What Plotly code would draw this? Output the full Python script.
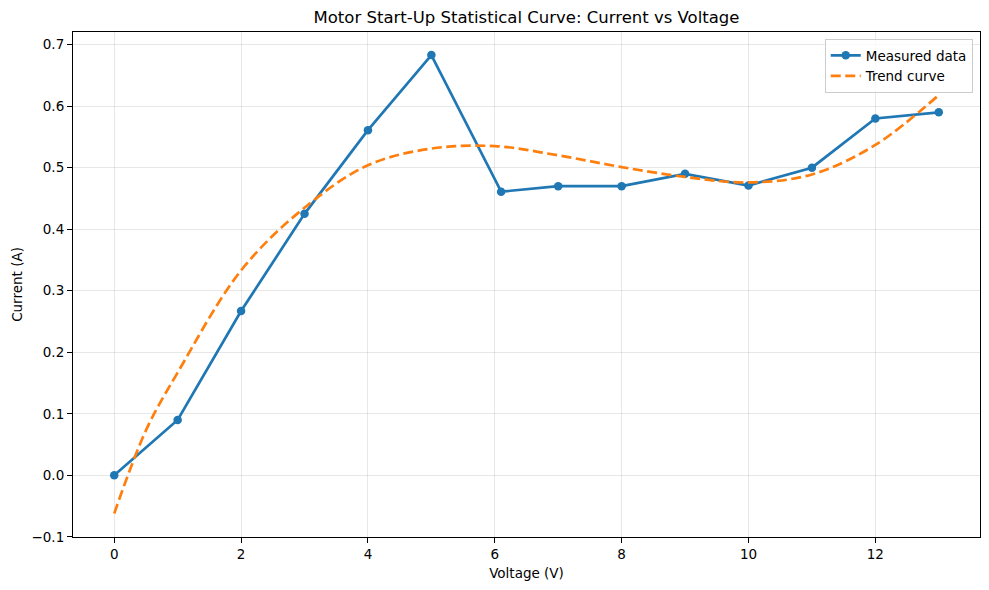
import plotly.graph_objects as go

# Measured data
voltage = [0, 1, 2, 3, 4, 5, 6.1, 7, 8, 9, 10, 11, 12, 13]
current = [0.0, 0.09, 0.267, 0.425, 0.561, 0.683, 0.461, 0.47, 0.47, 0.49, 0.471, 0.5, 0.58, 0.59]

# Trend curve
trend_x = [0, 0.5, 1, 2, 3, 4, 5, 6, 7, 8, 9, 10, 11, 12, 13]
trend_y = [-0.062, 0.073, 0.167, 0.333, 0.435, 0.504, 0.531, 0.535, 0.520, 0.501, 0.485, 0.476, 0.489, 0.537, 0.618]

x_ticks = [0, 2, 4, 6, 8, 10, 12]
y_ticks = [-0.1, 0.0, 0.1, 0.2, 0.3, 0.4, 0.5, 0.6, 0.7]

BLUE = "#1f77b4"
ORANGE = "#ff7f0e"
FONT = "DejaVu Sans"

fig = go.Figure()
fig.add_trace(go.Scatter(
    x=voltage, y=current, mode="lines+markers", name="Measured data",
    line=dict(color=BLUE, width=2.7),
    marker=dict(color=BLUE, size=8.5),
))
fig.add_trace(go.Scatter(
    x=trend_x, y=trend_y, mode="lines", name="Trend curve",
    line=dict(color=ORANGE, width=2.7, dash="10px,4.5px", shape="spline", smoothing=1.0),
))

axis_common = dict(
    showline=True, linecolor="black", linewidth=1.1, mirror=True,
    ticks="outside", ticklen=5, tickwidth=1.1, tickcolor="black",
    showgrid=True, gridcolor="rgba(176,176,176,0.3)", gridwidth=1,
    zeroline=False, automargin=False,
    tickfont=dict(family=FONT, size=13.5, color="black"),
)

fig.update_layout(
    width=989, height=590,
    margin=dict(l=73, r=9, t=32, b=53),
    paper_bgcolor="white", plot_bgcolor="white",
    font=dict(family=FONT, color="black"),
    title=dict(text="Motor Start-Up Statistical Curve: Current vs Voltage",
               x=(73 + 980) / 2 / 989, xanchor="center", y=1 - 17 / 590, yanchor="middle",
               font=dict(family=FONT, size=16.5, color="black")),
    xaxis=dict(range=[-0.65, 13.65], tickvals=x_ticks, ticktext=[str(v) for v in x_ticks],
               title=dict(text="Voltage (V)", font=dict(family=FONT, size=13.5), standoff=7),
               **axis_common),
    yaxis=dict(range=[-0.1002, 0.7205], tickvals=y_ticks, ticktext=[f"{v:.1f}".replace("-", "\u2212") for v in y_ticks],
               title=dict(text="Current (A)", font=dict(family=FONT, size=13.5), standoff=5),
               **axis_common),
    legend=dict(x=0.992, xanchor="right", y=0.986, yanchor="top",
                bgcolor="rgba(255,255,255,0.8)", bordercolor="#cccccc", borderwidth=1,
                font=dict(family=FONT, size=13.5, color="black"),
                tracegroupgap=0),
    showlegend=True,
)

fig.write_html("out.html")
